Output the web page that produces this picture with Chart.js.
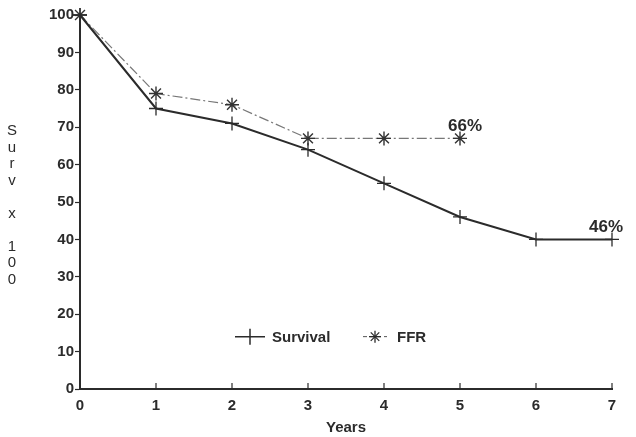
<!DOCTYPE html>
<html>
<head>
<meta charset="utf-8">
<script src="https://cdn.jsdelivr.net/npm/chart.js@4"></script>
<style>
  body { margin: 0; background: #fff; }
  #wrap { width: 636px; height: 437px; }
</style>
</head>
<body>
<div id="wrap"><canvas id="canvas" width="636" height="437"></canvas></div>
<script>
const years = [0, 1, 2, 3, 4, 5, 6, 7];
const survival = [100, 75, 71, 64, 55, 46, 40, 40];
const ffr = [100, 79, 76, 67, 67, 67];
const yTicks = [0, 10, 20, 30, 40, 50, 60, 70, 80, 90, 100];
const notes = [
  { x: 5, y: 67, text: '66%' },
  { x: 7, y: 40, text: '46%' }
];
const yTitle = ['S', 'u', 'r', 'v', '', 'x', '', '1', '0', '0'];

const ink = '#2b2b2b';
const font = "'Liberation Sans', Arial, sans-serif";

const extras = {
  id: 'extras',
  afterDraw(chart) {
    const c = chart.ctx;
    const xs = chart.scales.x, ys = chart.scales.y;
    c.save();
    // inward x ticks
    c.strokeStyle = ink;
    c.lineWidth = 1.2;
    years.forEach(v => {
      const px = xs.getPixelForValue(v);
      c.beginPath();
      c.moveTo(px, ys.bottom);
      c.lineTo(px, ys.bottom - 6);
      c.stroke();
    });
    // stacked y title
    c.fillStyle = ink;
    c.font = '15px ' + font;
    c.textAlign = 'center';
    c.textBaseline = 'middle';
    yTitle.forEach((ch, i) => c.fillText(ch, 12, 131 + i * 16.5));
    // value notes
    c.font = 'bold 17px ' + font;
    notes.forEach((n, i) => {
      const dx = i === 0 ? 5 : -6;
      c.fillText(n.text, xs.getPixelForValue(n.x) + dx, ys.getPixelForValue(n.y) - 12);
    });
    // legend
    const ly = ys.getPixelForValue(14);
    const lx = xs.getPixelForValue(2) + 18;
    c.lineWidth = 1.5;
    c.beginPath();
    c.moveTo(lx - 15, ly); c.lineTo(lx + 15, ly);
    c.moveTo(lx, ly - 8); c.lineTo(lx, ly + 8);
    c.stroke();
    c.font = 'bold 15px ' + font;
    c.textAlign = 'left';
    c.fillText('Survival', lx + 22, ly + 1);
    const fx = lx + 125;
    c.strokeStyle = '#555';
    c.lineWidth = 1;
    c.setLineDash([4, 3]);
    c.beginPath();
    c.moveTo(fx - 12, ly); c.lineTo(fx + 12, ly);
    c.stroke();
    c.setLineDash([]);
    c.strokeStyle = ink;
    c.lineWidth = 1.3;
    for (let k = 0; k < 4; k++) {
      const a = k * Math.PI / 4;
      c.beginPath();
      c.moveTo(fx - 6 * Math.cos(a), ly - 6 * Math.sin(a));
      c.lineTo(fx + 6 * Math.cos(a), ly + 6 * Math.sin(a));
      c.stroke();
    }
    c.fillText('FFR', fx + 22, ly + 1);
    c.restore();
  }
};

new Chart(document.getElementById('canvas'), {
  type: 'line',
  plugins: [extras],
  data: {
    labels: years,
    datasets: [{
      label: 'Survival',
      data: survival.map((v, i) => ({ x: years[i], y: v })),
      borderColor: ink,
      borderWidth: 2,
      pointStyle: 'cross',
      pointRadius: 7,
      pointBorderWidth: 1.3,
      pointBorderColor: ink,
      tension: 0,
      clip: false
    }, {
      label: 'FFR',
      data: ffr.map((v, i) => ({ x: years[i], y: v })),
      borderColor: '#777',
      borderWidth: 1.2,
      borderDash: [10, 3, 2, 3],
      pointStyle: 'star',
      pointRadius: 7,
      pointBorderWidth: 1.4,
      pointBorderColor: '#333',
      tension: 0,
      clip: false
    }]
  },
  options: {
    animation: false,
    responsive: false,
    layout: { padding: { left: 30, top: 15, right: 24, bottom: 0 } },
    plugins: { legend: { display: false }, tooltip: { enabled: false } },
    scales: {
      x: {
        type: 'linear',
        min: 0, max: 7,
        afterFit: s => { s.height = 48; },
        grid: { display: false, drawTicks: false },
        border: { color: ink, width: 2 },
        ticks: { stepSize: 1, padding: 8, color: ink, font: { family: font, size: 15, weight: 'bold' } },
        title: { display: true, text: 'Years', color: ink, padding: { top: 0, bottom: 0 }, font: { family: font, size: 15, weight: 'bold' } }
      },
      y: {
        min: 0, max: 100,
        afterFit: s => { s.width = 50; },
        afterBuildTicks: s => { s.ticks = yTicks.map(v => ({ value: v })); },
        grid: { drawOnChartArea: false, tickLength: 5, color: ink, tickWidth: 1.2 },
        border: { color: ink, width: 2 },
        ticks: { padding: 1, color: ink, font: { family: font, size: 15, weight: 'bold' } }
      }
    }
  }
});
</script>
</body>
</html>
